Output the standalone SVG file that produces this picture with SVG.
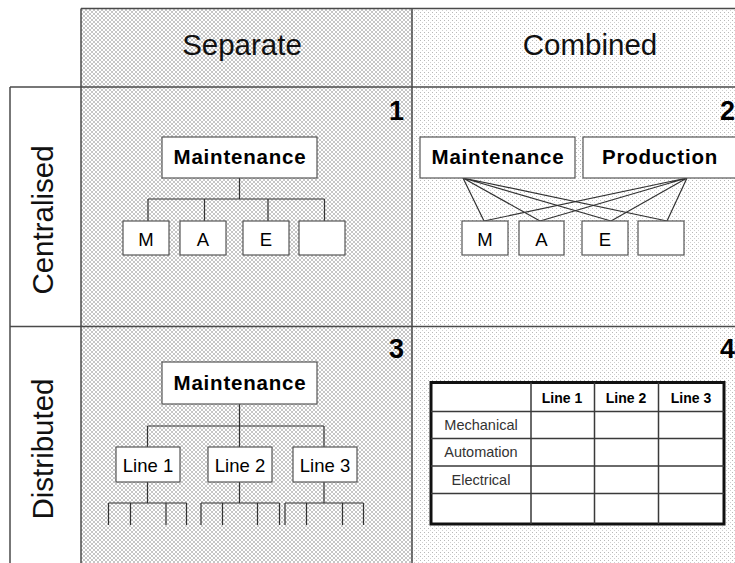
<svg xmlns="http://www.w3.org/2000/svg" width="735" height="563" viewBox="0 0 735 563">
  <defs>
    <!-- dense cross-hatch for the "Separate" column -->
    <pattern id="hatch" width="4" height="4" patternUnits="userSpaceOnUse">
      <rect width="4" height="4" fill="#ffffff"/>
      <path d="M0,0 L4,4 M4,0 L0,4" stroke="#a0a0a0" stroke-width="0.6"/>
    </pattern>
    <!-- light dotted texture for the "Combined" column -->
    <pattern id="dots" width="4" height="4" patternUnits="userSpaceOnUse">
      <rect width="4" height="4" fill="#ffffff"/>
      <rect x="0" y="0" width="1" height="1" fill="#b8b8b8"/>
      <rect x="2" y="2" width="1" height="1" fill="#d0d0d0"/>
    </pattern>
    <style>
      .grid { stroke: #4a4a4a; stroke-width: 1.5; fill: none; }
      .box { fill: #ffffff; stroke: #555555; stroke-width: 1.2; }
      .conn { stroke: #333333; stroke-width: 1.2; fill: none; }
      .head { font-family: "Liberation Sans", Arial, sans-serif; font-size: 29.5px; fill: #111; text-anchor: middle; }
      .num { font-family: "Liberation Sans", Arial, sans-serif; font-size: 27px; font-weight: bold; fill: #000; text-anchor: end; }
      .bold { font-family: "Liberation Sans", Arial, sans-serif; font-size: 20.5px; font-weight: bold; letter-spacing: 0.8px; fill: #000; text-anchor: middle; }
      .lbl { font-family: "Liberation Sans", Arial, sans-serif; font-size: 18.5px; fill: #000; text-anchor: middle; }
      .th { font-family: "Liberation Sans", Arial, sans-serif; font-size: 14px; font-weight: bold; fill: #000; text-anchor: middle; }
      .td { font-family: "Liberation Sans", Arial, sans-serif; font-size: 14.5px; fill: #333; text-anchor: middle; }
    </style>
  </defs>

  <rect width="735" height="563" fill="#ffffff"/>

  <!-- column backgrounds -->
  <rect x="81" y="8.5" width="331" height="555" fill="url(#hatch)"/>
  <rect x="412" y="8.5" width="323" height="555" fill="url(#dots)"/>

  <!-- grid lines -->
  <g id="grid" class="grid">
    <line x1="81" y1="8.5" x2="735" y2="8.5"/>
    <line x1="81" y1="8.5" x2="81" y2="563"/>
    <line x1="412" y1="8.5" x2="412" y2="563"/>
    <line x1="10" y1="87" x2="735" y2="87"/>
    <line x1="10" y1="326.5" x2="735" y2="326.5"/>
    <line x1="10" y1="87" x2="10" y2="563"/>
  </g>

  <!-- headers -->
  <g id="headers">
    <text class="head" x="242" y="55">Separate</text>
    <text class="head" x="590" y="55">Combined</text>
    <text class="head" transform="translate(53,220) rotate(-90)">Centralised</text>
    <text class="head" transform="translate(53,449) rotate(-90)">Distributed</text>
  </g>

  <!-- quadrant numbers -->
  <g id="numbers">
    <text class="num" x="404" y="120">1</text>
    <text class="num" x="735" y="120">2</text>
    <text class="num" x="404" y="358">3</text>
    <text class="num" x="735" y="358">4</text>
  </g>

  <!-- connectors -->
  <g id="connectors" class="conn">
    <!-- quadrant 1 -->
    <path d="M239.5,178 V199 M148,199 H324.5 M148,199 V221 M204.5,199 V221 M268,199 V221 M324.5,199 V221"/>
    <!-- quadrant 2: every unit linked to both managers -->
    <path d="M463,178 L484,221 M463,178 L540,221 M463,178 L611,221 M463,178 L667,221"/>
    <path d="M687,178 L484,221 M687,178 L540,221 M687,178 L611,221 M687,178 L667,221"/>
    <!-- quadrant 3 -->
    <path d="M239.5,404 V426 M147.5,426 H324 M147.5,426 V447 M239.5,426 V447 M324,426 V447"/>
    <path d="M147.5,482 V503 M108.5,503 H186.5 M108.5,503 V525 M130.5,503 V525 M166,503 V525 M186.5,503 V525"/>
    <path d="M239.5,482 V503 M201,503 H279.5 M201,503 V525 M222.5,503 V525 M257.5,503 V525 M279.5,503 V525"/>
    <path d="M324,482 V503 M285,503 H363.5 M285,503 V525 M306.5,503 V525 M342.5,503 V525 M363.5,503 V525"/>
  </g>

  <!-- quadrant 1: separate, centralised -->
  <g id="q1-maintenance">
    <rect class="box" x="162" y="137" width="155" height="41"/>
    <text class="bold" x="240" y="164">Maintenance</text>
  </g>
  <g id="q1-m">
    <rect class="box" x="123" y="221" width="46" height="34"/>
    <text class="lbl" x="146" y="246">M</text>
  </g>
  <g id="q1-a">
    <rect class="box" x="180" y="221" width="46" height="34"/>
    <text class="lbl" x="203" y="246">A</text>
  </g>
  <g id="q1-e">
    <rect class="box" x="243" y="221" width="46" height="34"/>
    <text class="lbl" x="266" y="246">E</text>
  </g>
  <g id="q1-blank">
    <rect class="box" x="299" y="221" width="46" height="34"/>
  </g>

  <!-- quadrant 2: combined, centralised -->
  <g id="q2-maintenance">
    <rect class="box" x="420" y="137" width="155" height="41"/>
    <text class="bold" x="498" y="164">Maintenance</text>
  </g>
  <g id="q2-production">
    <rect class="box" x="583" y="137" width="160" height="41"/>
    <text class="bold" x="660" y="164">Production</text>
  </g>
  <g id="q2-m">
    <rect class="box" x="462" y="221" width="46" height="34"/>
    <text class="lbl" x="485" y="246">M</text>
  </g>
  <g id="q2-a">
    <rect class="box" x="519" y="221" width="45" height="34"/>
    <text class="lbl" x="541.5" y="246">A</text>
  </g>
  <g id="q2-e">
    <rect class="box" x="582" y="221" width="46" height="34"/>
    <text class="lbl" x="605" y="246">E</text>
  </g>
  <g id="q2-blank">
    <rect class="box" x="638" y="221" width="46" height="34"/>
  </g>

  <!-- quadrant 3: separate, distributed -->
  <g id="q3-maintenance">
    <rect class="box" x="162" y="362" width="155" height="42"/>
    <text class="bold" x="240" y="390">Maintenance</text>
  </g>
  <g id="q3-line1">
    <rect class="box" x="116" y="447" width="64" height="35"/>
    <text class="lbl" x="148" y="471.5">Line 1</text>
  </g>
  <g id="q3-line2">
    <rect class="box" x="208" y="447" width="64" height="35"/>
    <text class="lbl" x="240" y="471.5">Line 2</text>
  </g>
  <g id="q3-line3">
    <rect class="box" x="293" y="447" width="64" height="35"/>
    <text class="lbl" x="325" y="471.5">Line 3</text>
  </g>

  <!-- quadrant 4: combined, distributed matrix -->
  <g id="q4-matrix">
    <rect x="431" y="382.5" width="293" height="141.5" fill="#ffffff" stroke="#111" stroke-width="3"/>
    <path d="M531,382.5 V524 M594.5,382.5 V524 M658.5,382.5 V524 M431,411.5 H724 M431,438.5 H724 M431,466 H724 M431,493.5 H724" stroke="#3a3a3a" stroke-width="1.5" fill="none"/>
    <text class="th" x="562" y="403">Line 1</text>
    <text class="th" x="626" y="403">Line 2</text>
    <text class="th" x="691" y="403">Line 3</text>
    <text class="td" x="481" y="430">Mechanical</text>
    <text class="td" x="481" y="457">Automation</text>
    <text class="td" x="481" y="485">Electrical</text>
  </g>
</svg>
